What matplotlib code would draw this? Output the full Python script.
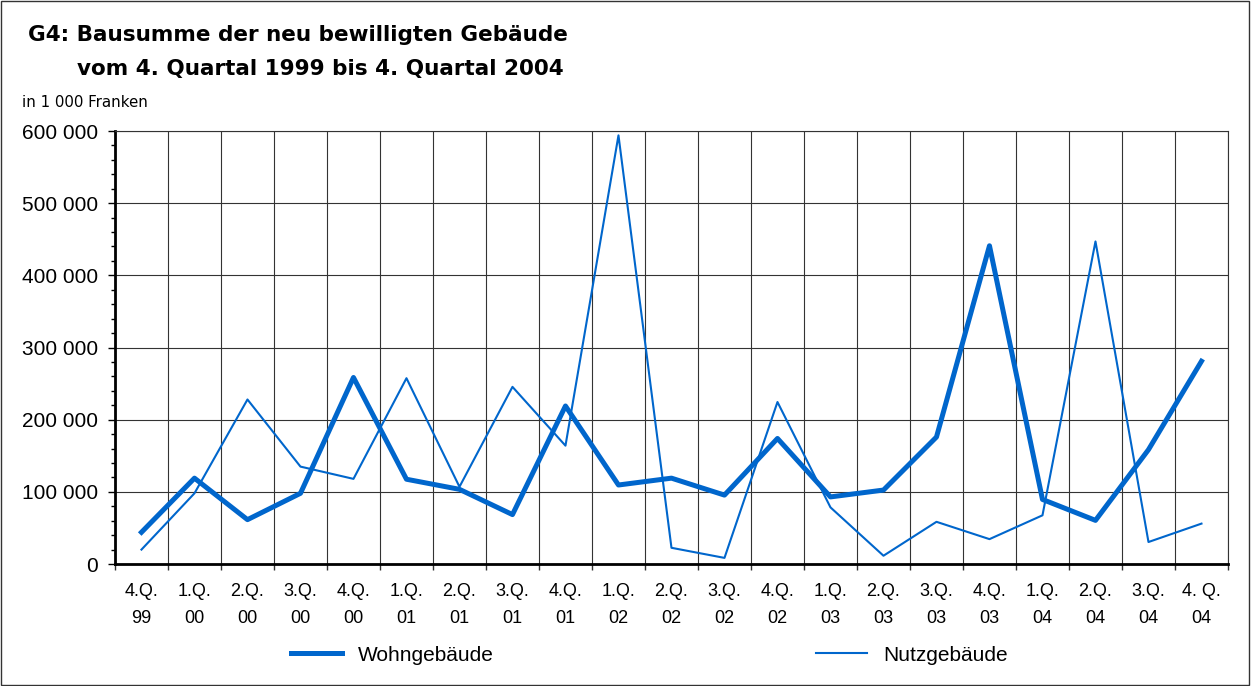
import matplotlib
matplotlib.use("Agg")
import matplotlib.pyplot as plt
from matplotlib.ticker import FixedLocator, MultipleLocator, FuncFormatter
from matplotlib.lines import Line2D
from matplotlib.patches import Rectangle

plt.rcParams['font.family'] = ['Liberation Sans', 'DejaVu Sans']

categories = ["4.Q.\n99", "1.Q.\n00", "2.Q.\n00", "3.Q.\n00", "4.Q.\n00",
              "1.Q.\n01", "2.Q.\n01", "3.Q.\n01", "4.Q.\n01",
              "1.Q.\n02", "2.Q.\n02", "3.Q.\n02", "4.Q.\n02",
              "1.Q.\n03", "2.Q.\n03", "3.Q.\n03", "4.Q.\n03",
              "1.Q.\n04", "2.Q.\n04", "3.Q.\n04", "4. Q.\n04"]
wohn = [44000, 119000, 61500, 98000, 258500, 117500, 103500, 68500, 219000,
        109500, 119000, 95500, 174000, 93000, 102500, 176000, 441000,
        89500, 60500, 158500, 281000]
nutz = [20000, 98000, 228000, 135000, 118000, 257500, 107000, 245500, 164000,
        594000, 22500, 8500, 224500, 78500, 11500, 58500, 34500,
        67500, 447000, 30500, 56000]

color = "#0066CC"
fig = plt.figure(figsize=(12.51, 6.86), dpi=100)
ax = fig.add_axes([0.0919, 0.1778, 0.8897, 0.6312])

x = list(range(len(categories)))
ax.plot(x, wohn, color=color, lw=3.6, zorder=3)
ax.plot(x, nutz, color=color, lw=1.5, zorder=3)

ax.set_xlim(-0.5, len(categories) - 0.5)
ax.set_ylim(0, 600000)
ax.yaxis.set_major_locator(MultipleLocator(100000))
ax.yaxis.set_minor_locator(MultipleLocator(20000))
ax.yaxis.set_major_formatter(FuncFormatter(lambda v, p: f"{int(v):,}".replace(",", " ")))
ax.set_xticks(x)
ax.set_xticklabels(categories, fontsize=13, linespacing=1.8)
ax.xaxis.set_minor_locator(FixedLocator([i - 0.5 for i in range(len(categories) + 1)]))
ax.tick_params(axis='x', which='major', length=0, pad=13.5)
ax.tick_params(axis='x', which='minor', length=4, width=1, color='#333333', direction='out')
ax.tick_params(axis='y', which='major', length=5, width=1, labelsize=15, pad=7)
ax.tick_params(axis='y', which='minor', length=3, width=1)

ax.grid(True, axis='y', which='major', color='#333333', lw=0.8)
ax.grid(True, axis='x', which='minor', color='#333333', lw=0.8)
ax.set_axisbelow(True)
for s in ['top', 'right']:
    ax.spines[s].set_color('#333333')
    ax.spines[s].set_linewidth(0.8)
ax.spines['left'].set_linewidth(2)
ax.spines['bottom'].set_linewidth(2)

fig.text(0.0224, 1 - 41 / 686, "G4: Bausumme der neu bewilligten Gebäude",
         fontsize=15.5, fontweight='bold', va='baseline', family='DejaVu Sans')
fig.text(0.0615, 1 - 75 / 686, "vom 4. Quartal 1999 bis 4. Quartal 2004",
         fontsize=15.5, fontweight='bold', va='baseline', family='DejaVu Sans')
fig.text(0.0176, 1 - 107 / 686, "in 1 000 Franken", fontsize=10.8, va='baseline',
         family='DejaVu Sans')

handles = [Line2D([], [], color=color, lw=3.6), Line2D([], [], color=color, lw=1.5)]
fig.legend(handles[:1], ["Wohngebäude"], loc='center left', bbox_to_anchor=(291 / 1251, 0.045),
           frameon=False, fontsize=15, handlelength=2.45, handletextpad=0.77,
           borderaxespad=0, borderpad=0)
fig.legend(handles[1:], ["Nutzgebäude"], loc='center left', bbox_to_anchor=(816 / 1251, 0.045),
           frameon=False, fontsize=15, handlelength=2.45, handletextpad=0.77,
           borderaxespad=0, borderpad=0)

fig.patches.append(Rectangle((0.0008, 0.0015), 0.998, 0.997, transform=fig.transFigure,
                             fill=False, edgecolor='#333333', lw=1))

fig.savefig("out.png", dpi=100)
